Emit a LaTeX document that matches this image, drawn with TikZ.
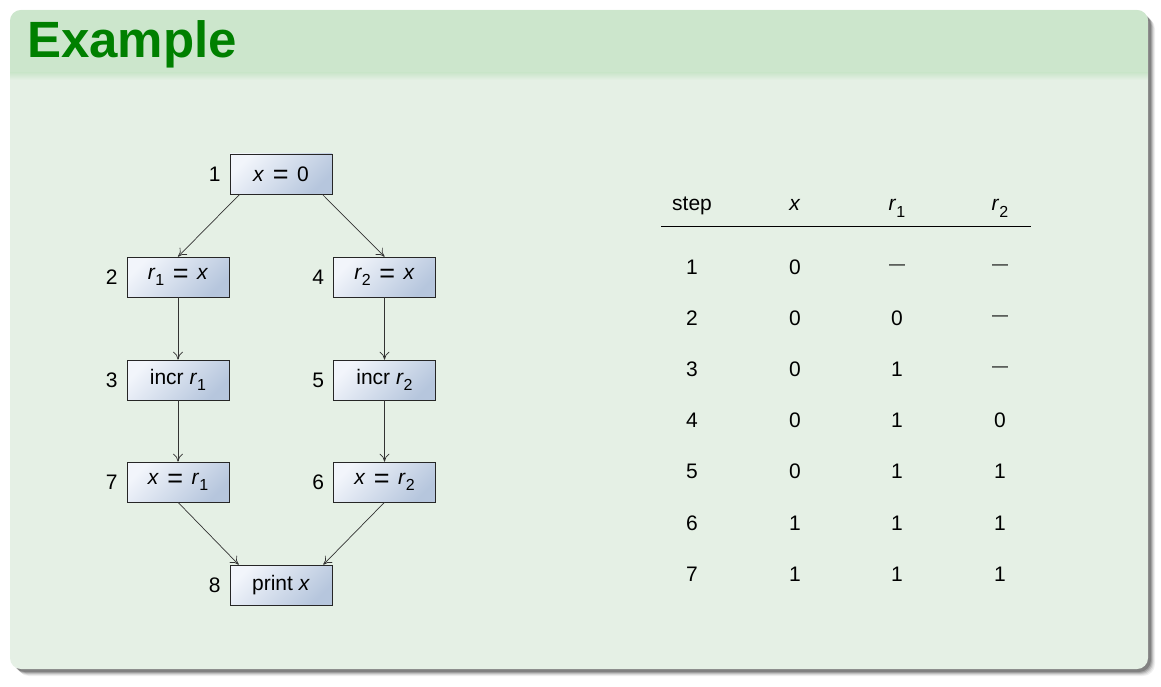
\documentclass[tikz,border=0pt]{standalone}
\usepackage{fontspec}
\setmainfont{Liberation Sans}
\usetikzlibrary{arrows.meta}
\definecolor{titlebg}{HTML}{CCE6CC}
\definecolor{bodybg}{HTML}{E5F0E5}
\definecolor{titlefg}{HTML}{008000}
\definecolor{boxlight}{HTML}{F2F5FB}
\definecolor{boxdark}{HTML}{B6C6DD}
\newcommand\vx{\textit{x}}
\newcommand\vr[1]{\textit{r}\raisebox{-6pt}{\fontsize{16}{16}\selectfont #1}}
\newcommand\myeq{\hspace{8.5pt}\raisebox{-2.5pt}[0pt][0pt]{\fontsize{27}{27}\selectfont =}\hspace{8.5pt}}
\newcommand\nil{\raisebox{4.5pt}{\fontsize{16}{16}\selectfont —}}
\begin{document}
\begin{tikzpicture}[x=1pt,y=-1pt,
  every node/.style={font=\fontsize{21}{25}\selectfont},
  stmt/.style={draw=black!85, line width=0.6pt, minimum width=102pt, minimum height=40pt, inner sep=0pt,
    top color=boxlight, bottom color=boxdark, shading angle=45},
  numlbl/.style={label distance=9pt, inner sep=0pt},
  flow/.style={draw=black!80, line width=0.7pt, -{To[length=8pt,width=10pt]}},
  cell/.style={anchor=base, inner sep=0pt}]
\useasboundingbox (0,0) rectangle (1161,687);
\fill[white] (0,0) rectangle (1161,687);
% shadow
\foreach \o/\a in {7/0.06,6/0.08,5/0.12,4/0.16,3/0.2}{
  \fill[black, opacity=\a, rounded corners=12pt] (10+\o,10+\o) rectangle (1148+\o,669+\o);
}
% frame
\fill[bodybg, rounded corners=11pt] (10,10) rectangle (1148,669);
\begin{scope}
  \clip[rounded corners=11pt] (10,10) rectangle (1148,669);
  \fill[titlebg] (10,10) rectangle (1148,73);
  \shade[top color=titlebg, bottom color=bodybg] (10,73) rectangle (1148,80);
\end{scope}
\node[anchor=base west, inner sep=0pt, text=titlefg, font=\fontsize{51}{56}\selectfont\bfseries] (title) at (27,58) {Example};
% flow graph
\node[stmt, label={[numlbl]left:1}] (n1) at (281,174) {\vx\myeq 0};
\node[stmt, label={[numlbl]left:2}] (n2) at (178,277) {\vr{1}\myeq\vx};
\node[stmt, label={[numlbl]left:4}] (n4) at (384.5,277) {\vr{2}\myeq\vx};
\node[stmt, label={[numlbl]left:3}] (n3) at (178,380) {incr \vr{1}};
\node[stmt, label={[numlbl]left:5}] (n5) at (384.5,380) {incr \vr{2}};
\node[stmt, label={[numlbl]left:7}] (n7) at (178,482) {\vx\myeq\vr{1}};
\node[stmt, label={[numlbl]left:6}] (n6) at (384.5,482) {\vx\myeq\vr{2}};
\node[stmt, label={[numlbl]left:8}] (n8) at (281,585) {print \vx};
\draw[flow] ([xshift=10pt]n1.south west) -- (n2.north);
\draw[flow] ([xshift=-10pt]n1.south east) -- (n4.north);
\draw[flow] (n2) -- (n3);
\draw[flow] (n3) -- (n7);
\draw[flow] (n4) -- (n5);
\draw[flow] (n5) -- (n6);
\draw[flow] (n7.south) -- ([xshift=9pt]n8.north west);
\draw[flow] (n6.south) -- ([xshift=-9pt]n8.north east);
% table
\node[cell] (h0) at (692,211) {step};
\node[cell] (h1) at (795,211) {\vx};
\node[cell] (h2) at (897,211) {\vr{1}};
\node[cell] (h3) at (1000,211) {\vr{2}};
\coordinate (rl) at (661,226);
\coordinate (rr) at (1031,226);
\draw[line width=0.7pt] (rl) -- (rr);
\foreach \s/\a/\b/\c [count=\i from 0] in {1/0/\nil/\nil, 2/0/0/\nil, 3/0/1/\nil, 4/0/1/0, 5/0/1/1, 6/1/1/1, 7/1/1/1}{
  \pgfmathsetmacro\yy{274+51.2*\i}
  \node[cell] (s\i) at (692,\yy) {\s};
  \node[cell] (x\i) at (795,\yy) {\a};
  \node[cell] (a\i) at (897,\yy) {\b};
  \node[cell] (b\i) at (1000,\yy) {\c};
}
\end{tikzpicture}
\end{document}
